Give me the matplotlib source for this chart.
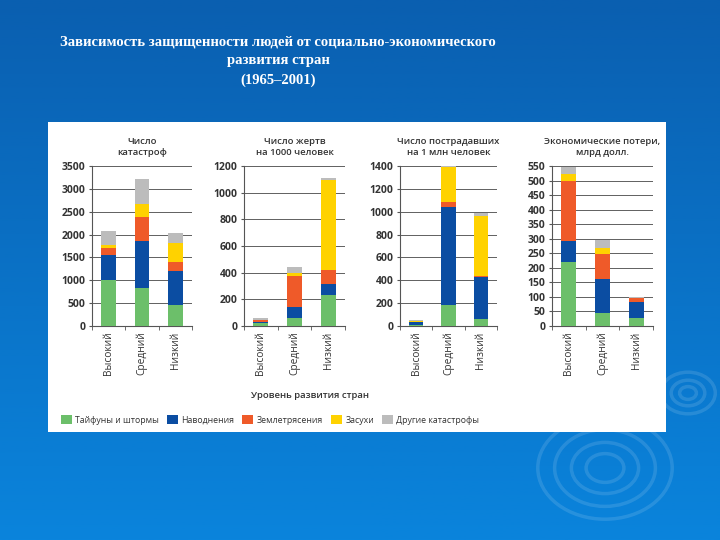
import numpy as np
import matplotlib
matplotlib.use("Agg")
import matplotlib.pyplot as plt
from matplotlib.patches import Rectangle, Patch, Ellipse

plt.rcParams['font.family'] = ['Open Sans', 'DejaVu Sans']

# data (component values, bottom to top)
levels = ['Высокий', 'Средний', 'Низкий']
series = ['Тайфуны и штормы', 'Наводнения', 'Землетрясения', 'Засухи', 'Другие катастрофы']
colors = ['#6cbf6a', '#0b4da2', '#ef5a29', '#ffd200', '#bcbcbc']

disasters = [[1000, 830, 450], [550, 1030, 750], [160, 520, 190], [70, 280, 420], [290, 550, 220]]
deaths = [[20, 60, 229], [10, 81, 88], [15, 234, 103], [2, 20, 672], [13, 48, 15]]
affected = [[12, 182, 59], [20, 859, 367], [4, 44, 12], [12, 303, 524], [2, 12, 29]]
losses = [[219, 46, 29], [73, 114, 52], [206, 86, 14], [26, 23, 2], [24, 28, 2]]

titles = ['Число\nкатастроф', 'Число жертв\nна 1000 человек',
          'Число пострадавших\nна 1 млн человек', 'Экономические потери,\nмлрд долл.']
ylims = [3500, 1200, 1400, 550]
ysteps = [500, 200, 200, 50]
tables = [disasters, deaths, affected, losses]

fig = plt.figure(figsize=(7.2, 5.4), dpi=100)

# blue gradient background
bg = fig.add_axes([0, 0, 1, 1], zorder=-10)
grad = np.linspace(0, 1, 256).reshape(-1, 1)
cmap = matplotlib.colors.LinearSegmentedColormap.from_list('bg', ['#0a5fb0', '#0a84dc'])
bg.imshow(grad, aspect='auto', cmap=cmap, extent=[0, 720, 540, 0])
for cx, cy, rads in [(605, 468, [18, 32, 48, 64]), (688, 393, [8, 16, 26])]:
    for r in rads:
        bg.add_patch(Ellipse((cx, cy), 2.1 * r, 1.6 * r, fill=False,
                             edgecolor='white', alpha=0.12, lw=2.5))
bg.set_xlim(0, 720)
bg.set_ylim(540, 0)
bg.axis('off')

# white panel
fig.patches.append(Rectangle((48 / 720, 1 - 432 / 540), 618 / 720, 310 / 540,
                             transform=fig.transFigure, facecolor='white',
                             edgecolor='none', zorder=-5))

fig.text(278 / 720, 1 - 35 / 540, 'Зависимость защищенности людей от социально-экономического\nразвития стран\n(1965–2001)',
         ha='center', va='top', color='white', fontsize=10.5, fontweight='bold',
         family='Liberation Serif', linespacing=1.6)

lefts = [92, 244, 400, 552]
widths = [100, 101, 97, 101]
x = np.arange(len(levels))
for i in range(4):
    ax = fig.add_axes([lefts[i] / 720, 1 - 326 / 540, widths[i] / 720, 160 / 540])
    bottom = np.zeros(3)
    for vals, c in zip(tables[i], colors):
        ax.bar(x, vals, 0.44, bottom=bottom, color=c, zorder=3)
        bottom += np.array(vals)
    ax.set_xlim(-0.5, 2.5)
    ax.set_ylim(0, ylims[i])
    ax.set_yticks(np.arange(0, ylims[i] + 1, ysteps[i]))
    ax.yaxis.grid(True, color='#606060', lw=0.7, zorder=0)
    ax.set_xticks(x)
    ax.set_xticklabels(levels, rotation=90, fontsize=7.3, color='#333333')
    ax.set_xticks([-0.5, 0.5, 1.5, 2.5], minor=True)
    ax.tick_params(axis='x', which='major', length=0, pad=4)
    ax.tick_params(axis='x', which='minor', length=3, color='#555555')
    ax.tick_params(axis='y', length=2.5, color='#555555', labelsize=7.5, pad=2)
    for lab in ax.get_yticklabels():
        lab.set_fontweight('bold')
        lab.set_color('#333333')
    for s in ['top', 'right']:
        ax.spines[s].set_visible(False)
    for s in ['left', 'bottom']:
        ax.spines[s].set_color('#555555')
        ax.spines[s].set_linewidth(0.8)
    ax.set_title(titles[i], fontsize=6.8, fontweight='semibold', color='#333333', pad=8)

fig.text(310 / 720, 1 - 395 / 540, 'Уровень развития стран', ha='center', va='center',
         fontsize=6.8, fontweight='semibold', color='#333333')

handles = [Patch(facecolor=c, edgecolor='none') for c in colors]
fig.legend(handles, series, loc='center left', bbox_to_anchor=(53 / 720, 1 - 420 / 540), ncol=5,
           frameon=False, fontsize=6.3, handlelength=1.25, handleheight=1.25,
           handletextpad=0.4, columnspacing=0.9, labelcolor='#333333')

fig.savefig('out.png', dpi=100)
